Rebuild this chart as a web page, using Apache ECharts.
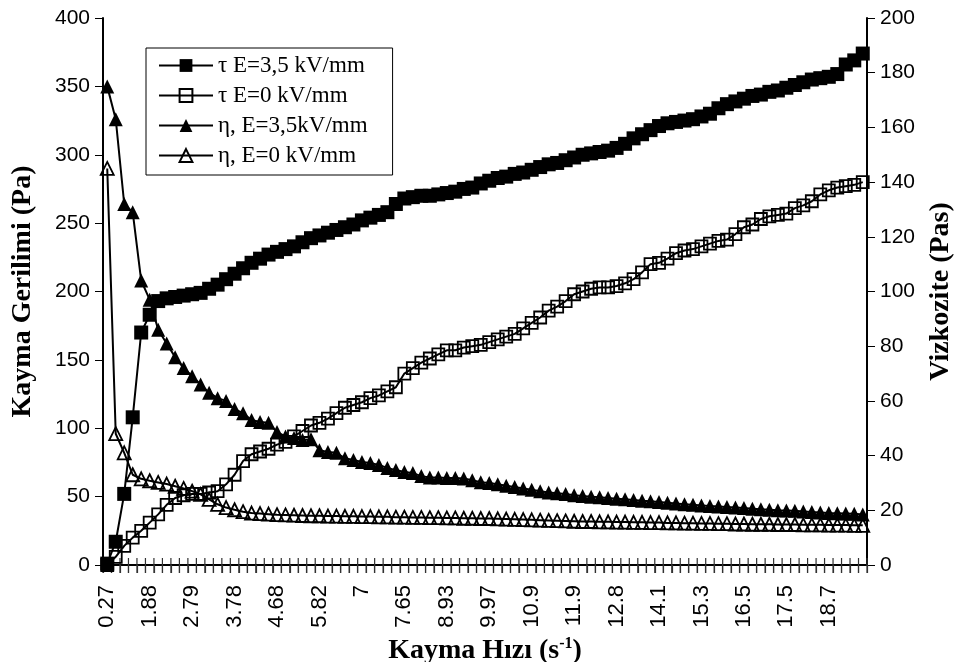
<!DOCTYPE html>
<html>
<head>
<meta charset="utf-8">
<script src="https://cdn.jsdelivr.net/npm/echarts@6/dist/echarts.min.js"></script>
<style>
html, body { margin: 0; padding: 0; background: #fff; }
#main { width: 957px; height: 662px; }
</style>
</head>
<body>
<div id="main"></div>
<script>
// tick labels shown on the x axis (every 5th shear-rate category)
var xLabels = ['0.27', '1.88', '2.79', '3.78', '4.68', '5.82', '7', '7.65', '8.93', '9.97',
               '10.9', '11.9', '12.8', '14.1', '15.3', '16.5', '17.5', '18.7'];

// shear stress, E=3.5 kV/mm (Pa, left axis)
var tauE35 = [1, 17, 52, 108, 170, 183, 193, 195, 196, 197,
              198, 199, 202, 205, 209, 213, 217, 221, 224, 227,
              229, 231, 233, 236, 239, 241, 243, 245, 247, 249,
              252, 254, 256, 258, 264, 268, 269, 270, 270, 271,
              272, 273, 275, 276, 279, 281, 283, 284, 286, 287,
              289, 291, 293, 294, 296, 298, 300, 301, 302, 303,
              305, 308, 312, 315, 318, 321, 323, 324, 325, 326,
              328, 330, 334, 337, 339, 341, 343, 344, 346, 347,
              349, 351, 353, 355, 356, 357, 359, 366, 369, 374];

// shear stress, E=0 (Pa, left axis)
var tauE0 = [0, 6, 14, 20, 25, 31, 37, 44, 49, 51,
             52, 52, 53, 54, 59, 66, 76, 81, 83, 85,
             88, 90, 94, 98, 102, 104, 107, 111, 115, 117,
             119, 122, 124, 127, 130, 140, 144, 148, 151, 154,
             157, 157, 159, 160, 161, 163, 165, 167, 169, 173,
             177, 181, 186, 189, 193, 198, 200, 202, 203, 203,
             204, 206, 209, 214, 220, 221, 224, 228, 230, 231,
             233, 235, 237, 238, 242, 247, 249, 253, 255, 256,
             257, 261, 263, 266, 271, 274, 276, 277, 278, 280];

// viscosity, E=3.5 kV/mm (Pas, right axis)
var etaE35 = [175, 163, 132, 129, 104, 97, 86, 81, 76, 72,
              69, 66, 63, 61, 60, 57, 55.5, 53, 52.3, 52,
              48.6, 47, 46.4, 45.7, 46, 42, 41.3, 41, 39, 38.4,
              37.7, 37.3, 36.6, 35.5, 34.7, 34, 33.6, 32.5, 32, 32,
              31.8, 31.8, 31.6, 31, 30.3, 30, 29.5, 29, 28.5, 28,
              27.5, 27, 26.5, 26.2, 26, 25.5, 25.2, 25, 24.8, 24.5,
              24.2, 24, 23.8, 23.5, 23.3, 23, 22.8, 22.5, 22.2, 22,
              21.8, 21.6, 21.4, 21.2, 21, 20.8, 20.6, 20.4, 20.2, 20,
              19.9, 19.8, 19.6, 19.4, 19.2, 19, 18.9, 18.8, 18.7, 18.5];

// viscosity, E=0 (Pas, right axis)
var etaE0 = [145, 48, 41, 33, 31.5, 30.8, 30.2, 29.6, 28.8, 28,
             27, 25.8, 24, 22.2, 21, 20.2, 19.5, 19, 18.8, 18.6,
             18.4, 18.3, 18.2, 18.1, 18, 18, 17.9, 17.9, 17.8, 17.8,
             17.7, 17.7, 17.6, 17.6, 17.5, 17.5, 17.4, 17.4, 17.3, 17.3,
             17.2, 17.2, 17.1, 17.1, 17, 17, 16.9, 16.8, 16.7, 16.6,
             16.5, 16.4, 16.3, 16.2, 16.1, 16, 15.9, 15.9, 15.8, 15.8,
             15.7, 15.7, 15.6, 15.6, 15.5, 15.5, 15.4, 15.4, 15.3, 15.3,
             15.2, 15.2, 15.1, 15.1, 15, 15, 14.9, 14.9, 14.9, 14.8,
             14.8, 14.8, 14.7, 14.7, 14.7, 14.6, 14.6, 14.6, 14.5, 14.5];

var categories = [];
for (var i = 0; i < tauE35.length; i++) categories.push(String(i));

var sans = 'Liberation Sans';
var serif = 'Liberation Serif';
var tickColor = '#333';

function mkSeries(name, data, symbol, filled, yIdx, size) {
    return {
        name: name,
        type: 'line',
        xAxisIndex: 0,
        yAxisIndex: yIdx,
        data: data,
        symbol: symbol,
        symbolSize: size,
        showSymbol: true,
        showAllSymbol: true,
        clip: false,
        z: 3,
        lineStyle: { color: '#000', width: 2 },
        itemStyle: filled
            ? { color: '#000', borderColor: '#000', borderWidth: 0 }
            : { color: 'transparent', borderColor: '#000', borderWidth: 1.8 },
        emphasis: { disabled: true }
    };
}

// cross tick marks on the category boundaries, placed with the category scale
var crossTicks = {
    type: 'custom',
    xAxisIndex: 0,
    yAxisIndex: 0,
    clip: false,
    silent: true,
    z: 2,
    data: categories.map(function (c, i) { return [i, 0]; }),
    renderItem: function (params, api) {
        var idx = api.value(0);
        var p = api.coord([idx, 0]);
        var half = api.size([1, 0])[0] / 2;
        var xs = [p[0] + half];
        if (idx === 0) xs.push(p[0] - half);
        return {
            type: 'group',
            children: xs.map(function (x) {
                return {
                    type: 'line',
                    shape: { x1: x, y1: p[1] - 7, x2: x, y2: p[1] + 8 },
                    style: { stroke: tickColor, lineWidth: 1.2 }
                };
            })
        };
    }
};

var chart = echarts.init(document.getElementById('main'));
chart.setOption({
    animation: false,
    backgroundColor: '#fff',
    grid: { left: 103, right: 90, top: 18, bottom: 97, outerBoundsMode: 'none' },
    legend: {
        orient: 'vertical',
        left: 146,
        top: 48,
        padding: [6, 25, 8, 12],
        itemGap: 7,
        itemWidth: 54,
        itemHeight: 16,
        borderColor: '#000',
        borderWidth: 1,
        textStyle: { fontFamily: serif, fontSize: 23, color: '#000' },
        data: ['τ E=3,5 kV/mm', 'τ E=0 kV/mm', 'η, E=3,5kV/mm', 'η, E=0 kV/mm']
    },
    xAxis: {
        type: 'category',
        data: categories,
        position: 'bottom',
        axisLine: { show: true, onZero: false, lineStyle: { color: '#000', width: 2 } },
        axisTick: { show: true, interval: 0, length: 8, lineStyle: { color: tickColor, width: 1.2 } },
        axisLabel: {
            interval: 4,
            rotate: 90,
            margin: 20,
            fontFamily: sans,
            fontSize: 22,
            color: '#000',
            formatter: function (v, idx) { return idx % 5 === 0 ? xLabels[idx / 5] : ''; }
        },
        splitLine: { show: false },
        name: '{a|Kayma Hızı (s}{s|-1}{a|)}',
        nameLocation: 'middle',
        nameGap: 62,
        nameTextStyle: {
            rich: {
                a: { fontFamily: serif, fontWeight: 'bold', fontSize: 28, color: '#000' },
                s: { fontFamily: serif, fontWeight: 'bold', fontSize: 16, color: '#000', verticalAlign: 'top', padding: [0, 0, 14, 0] }
            }
        }
    },
    yAxis: [{
        type: 'value',
        min: 0, max: 400, interval: 50,
        position: 'left',
        splitLine: { show: false },
        axisLine: { show: true, onZero: false, lineStyle: { color: '#000', width: 2 } },
        axisTick: { show: true, length: 8, lineStyle: { color: '#000' } },
        axisLabel: { margin: 13, fontFamily: sans, fontSize: 21, color: '#000' },
        name: 'Kayma Gerilimi (Pa)',
        nameLocation: 'middle',
        nameRotate: 90,
        nameGap: 66,
        nameTextStyle: { fontFamily: serif, fontWeight: 'bold', fontSize: 28, color: '#000' }
    }, {
        type: 'value',
        min: 0, max: 200, interval: 20,
        position: 'right',
        splitLine: { show: false },
        axisLine: { show: true, onZero: false, lineStyle: { color: '#000', width: 2 } },
        axisTick: { show: true, length: 8, lineStyle: { color: '#000' } },
        axisLabel: { margin: 13, fontFamily: sans, fontSize: 21, color: '#000' },
        name: 'Vizkozite (Pas)',
        nameLocation: 'middle',
        nameRotate: 90,
        nameGap: 60,
        nameTextStyle: { fontFamily: serif, fontWeight: 'bold', fontSize: 28, color: '#000' }
    }],
    series: [
        crossTicks,
        mkSeries('τ E=3,5 kV/mm', tauE35, 'rect', true, 0, 14),
        mkSeries('τ E=0 kV/mm', tauE0, 'rect', false, 0, 12),
        mkSeries('η, E=3,5kV/mm', etaE35, 'triangle', true, 1, 14),
        mkSeries('η, E=0 kV/mm', etaE0, 'triangle', false, 1, 13)
    ]
});
</script>
</body>
</html>
